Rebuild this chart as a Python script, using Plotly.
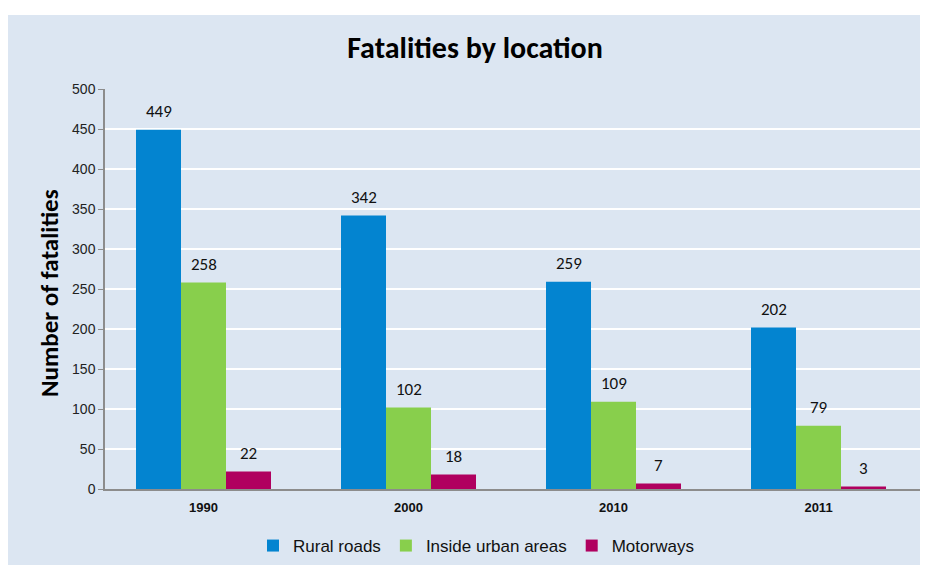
import plotly.graph_objects as go

years = ["1990", "2000", "2010", "2011"]
rural = [449, 342, 259, 202]
urban = [258, 102, 109, 79]
motorways = [22, 18, 7, 3]
series_names = ["Rural roads", "Inside urban areas", "Motorways"]
colors = ["#0384d0", "#88cf4c", "#b0005f"]
y_ticks = [0, 50, 100, 150, 200, 250, 300, 350, 400, 450, 500]

OFF = 8  # page body margin offset
W, H = 928 + OFF, 565 + OFF
L, R, T, B = 105 - OFF, 920 - OFF, 89 - OFF, 489 - OFF
PW, PH = R - L, B - T

narrow = "Liberation Sans Narrow, Arial Narrow, Liberation Sans, Arial"
calib = "Carlito, Calibri, Lato, Open Sans, sans-serif"
BARGAP = 0.3415
CAT_PX = 205.0
X0 = -(203.5 - 105) / CAT_PX
XR = [X0, X0 + PW / CAT_PX]

fig = go.Figure()
for name, vals, col in zip(series_names, [rural, urban, motorways], colors):
    fig.add_trace(go.Bar(x=years, y=vals, name=name, marker=dict(color=col, line=dict(width=0))))

# data labels above each bar
bar_px = CAT_PX * (1 - BARGAP) / 3
for i, vals in enumerate([rural, urban, motorways]):
    for j, v in enumerate(vals):
        fig.add_annotation(x=j, y=v, xref="x", yref="y", text=str(v), showarrow=False,
                           xshift=(i - 1) * bar_px, yshift=18,
                           font=dict(family=calib, size=17, color="#111111"))

# y-axis title
fig.add_annotation(xref="paper", yref="paper", x=(49 - OFF - L) / PW, y=(B - (293 - OFF)) / PH,
                   text="<b>Number of fatalities</b>", textangle=-90, showarrow=False,
                   xanchor="center", yanchor="middle",
                   font=dict(family=calib, size=25, color="#000000"))

bg = "#dce6f2"
# white page strip at top outside the light-blue chart area
fig.add_shape(type="rect", xref="paper", yref="paper", layer="below",
              x0=-L / PW, x1=(W - L) / PW,
              y0=(B - (15 - OFF)) / PH, y1=B / PH,
              fillcolor="white", line=dict(width=0))

fig.update_layout(
    width=W, height=H,
    margin=dict(l=L, r=W - R, t=T, b=H - B, autoexpand=False),
    paper_bgcolor=bg, plot_bgcolor=bg,
    barmode="group", bargap=BARGAP, bargroupgap=0,
    title=dict(text="<b>Fatalities by location</b>", x=(475 - OFF) / W, xanchor="center",
               y=1 - (47 - OFF) / H, yanchor="middle",
               font=dict(family=calib, size=30, color="#000000")),
    showlegend=True,
    legend=dict(orientation="h", x=(476 - OFF) / W, xref="container", xanchor="center",
                y=1 - (546 - OFF) / H, yref="container", yanchor="middle",
                font=dict(family=narrow, size=17, color="#111111"),
                itemwidth=30, bgcolor="rgba(0,0,0,0)", traceorder="normal"),
    xaxis=dict(type="category", range=XR, showgrid=False, showline=True,
               linecolor="#8c8c8c", linewidth=1.5, ticks="", automargin=False,
               ticklabelstandoff=6,
               tickfont=dict(family=narrow, size=13, color="#111111"),
               tickprefix="<b>", ticksuffix="</b>"),
    yaxis=dict(range=[0, 500], tickvals=y_ticks, showgrid=True, gridcolor="white", gridwidth=2,
               showline=True, linecolor="#8c8c8c", linewidth=1.5, ticks="outside",
               ticklen=5, tickcolor="#8c8c8c", zeroline=False, automargin=False,
               tickfont=dict(family=narrow, size=14, color="#222222")),
)

fig.write_html("out.html")
